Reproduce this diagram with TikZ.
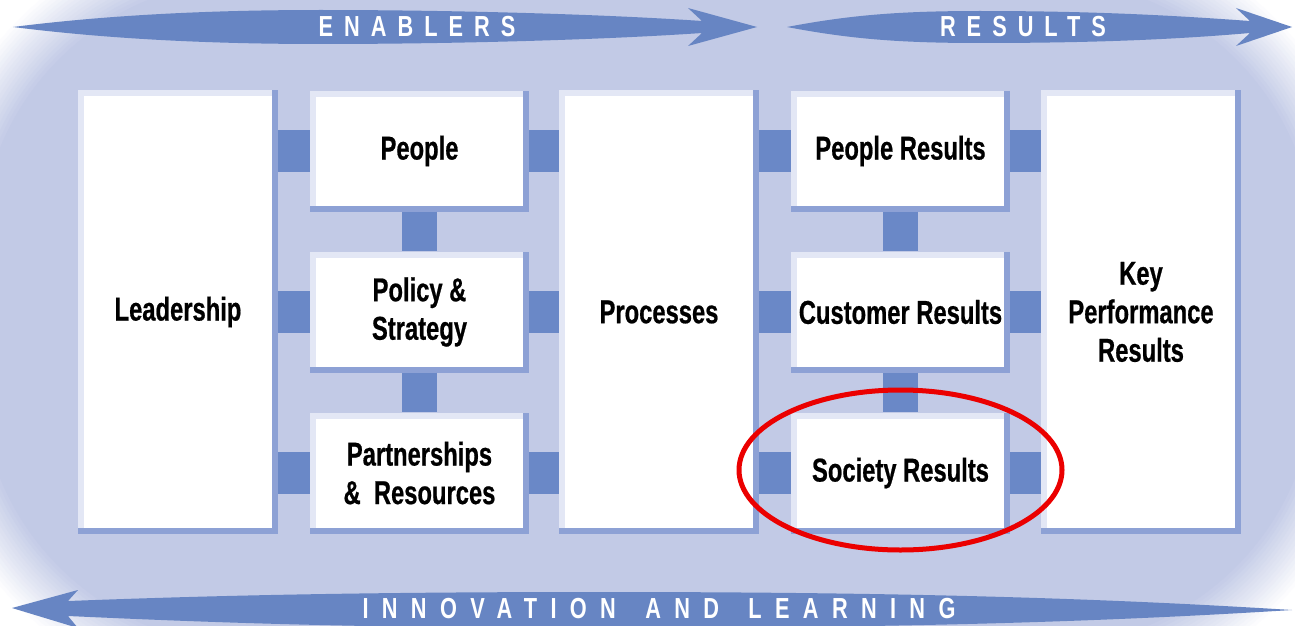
\documentclass[tikz,border=0pt]{standalone}
\usepackage{fontspec}
\newfontfamily\boxfont{Liberation Sans}[FakeStretch=0.72,FakeBold=0.6]
\newfontfamily\bandfont{Liberation Sans}[FakeStretch=0.75,LetterSpace=38]
\usetikzlibrary{positioning,shapes.geometric}
\definecolor{bgblue}{RGB}{194,202,230}
\definecolor{bandblue}{RGB}{103,133,195}
\definecolor{linkblue}{RGB}{106,136,199}
\definecolor{boxdark}{RGB}{141,161,213}
\definecolor{boxlight}{RGB}{227,231,245}
\definecolor{ringred}{RGB}{235,0,0}
\tikzset{
  box/.style={rectangle, fill=white, inner sep=0pt, align=center,
    font=\boxfont\bfseries\fontsize{33}{38.5}\selectfont,
    path picture={
      \fill[boxlight] (path picture bounding box.north west) rectangle ([xshift=6pt]path picture bounding box.south west);
      \fill[boxlight] (path picture bounding box.north west) rectangle ([yshift=-6pt]path picture bounding box.north east);
      \fill[boxdark] (path picture bounding box.south west) rectangle ([yshift=6pt]path picture bounding box.south east);
      \fill[boxdark] ([xshift=-6pt]path picture bounding box.north east) rectangle (path picture bounding box.south east);
    }},
  bigbox/.style={box, minimum width=200pt, minimum height=444pt},
  smallbox/.style={box, minimum width=219pt, minimum height=121pt},
  link/.style={draw=linkblue, line width=42pt},
  vlink/.style={draw=linkblue, line width=35pt},
  band/.style={fill=bandblue},
  bandtext/.style={text=white, inner sep=0pt, font=\bandfont\bfseries\fontsize{29}{29}\selectfont},
  ring/.style={ellipse, draw=ringred, line width=5pt, inner sep=0pt,
    minimum width=323pt, minimum height=160pt}
}
\begin{document}
\begin{tikzpicture}[x=1pt,y=-1pt]
  \useasboundingbox (0,0) rectangle (1295,626);
  \clip (0,0) rectangle (1295,626);
  \fill[white] (0,0) rectangle (1295,626);
  \foreach \k [evaluate=\k as \e using -80+60*\k/17, evaluate=\k as \r using 330-60*\k/17,
               evaluate=\k as \c using int(\k*100/17)] in {0,...,17}
    \fill[bgblue!\c, rounded corners=\r pt] (\e,\e) rectangle ({1295-\e},{626-\e});

  \fill[band] (13,27) .. controls (100,16) and (200,10) .. (320,10)
    .. controls (450,10) and (600,14) .. (702,21) -- (688,8) -- (757,27) -- (688,46) -- (702,33)
    .. controls (600,40) and (450,44) .. (320,44) .. controls (200,44) and (100,38) .. (13,27) -- cycle;
  \fill[band] (787,27) .. controls (850,15) and (900,11) .. (980,11)
    .. controls (1100,11) and (1180,16) .. (1250,21) -- (1236,8) -- (1292,27) -- (1236,46) -- (1250,33)
    .. controls (1180,39) and (1100,43) .. (980,43) .. controls (900,43) and (850,39) .. (787,27) -- cycle;
  \fill[band] (12,608) -- (78,590) -- (68,601) .. controls (200,596) and (350,592) .. (600,592)
    .. controls (900,592) and (1100,598) .. (1292,610) .. controls (1100,622) and (900,628) .. (600,628)
    .. controls (350,628) and (200,622) .. (68,616) -- (78,628) -- cycle;
  \node[bandtext] (enab) at (417,27) {ENABLERS};
  \node[bandtext] (resu) at (1023,27) {RESULTS};
  \node[bandtext] (innov) at (659,609) {\addfontfeatures{LetterSpace=46}INNOVATION\hspace{10pt} AND\hspace{10pt} LEARNING};

  \node[bigbox] (lead) at (178,312) {Leadership};
  \node[smallbox] (pol) [right of=lead, node distance=241.5pt] {Policy \&\\Strategy};
  \node[smallbox] (peop) [above of=pol, node distance=161pt] {People};
  \node[smallbox] (part) [below of=pol, node distance=161pt] {Partnerships\\\&\ \ Resources};
  \node[bigbox] (proc) [right of=pol, node distance=239.5pt] {Processes};
  \node[smallbox] (cust) [right of=proc, node distance=241.5pt] {Customer Results};
  \node[smallbox] (pres) [above of=cust, node distance=161pt] {People Results};
  \node[smallbox] (soc) [below of=cust, node distance=161pt] {Society Results};
  \node[bigbox] (kpr) [right of=cust, node distance=240.5pt] {Key\\Performance\\Results};

  \foreach \a/\b in {lead/peop, lead/pol, lead/part, proc/pres, proc/cust, proc/soc}
    \draw[link] (\a.east |- \b) -- (\b.west);
  \foreach \a/\b in {peop/proc, pol/proc, part/proc, pres/kpr, cust/kpr, soc/kpr}
    \draw[link] (\a.east) -- (\b.west |- \a);
  \foreach \a/\b in {peop/pol, pol/part, pres/cust, cust/soc}
    \draw[vlink] (\a.south) -- (\b.north);

  \node[ring] (circled) at ([yshift=3pt]soc) {};
\end{tikzpicture}
\end{document}
